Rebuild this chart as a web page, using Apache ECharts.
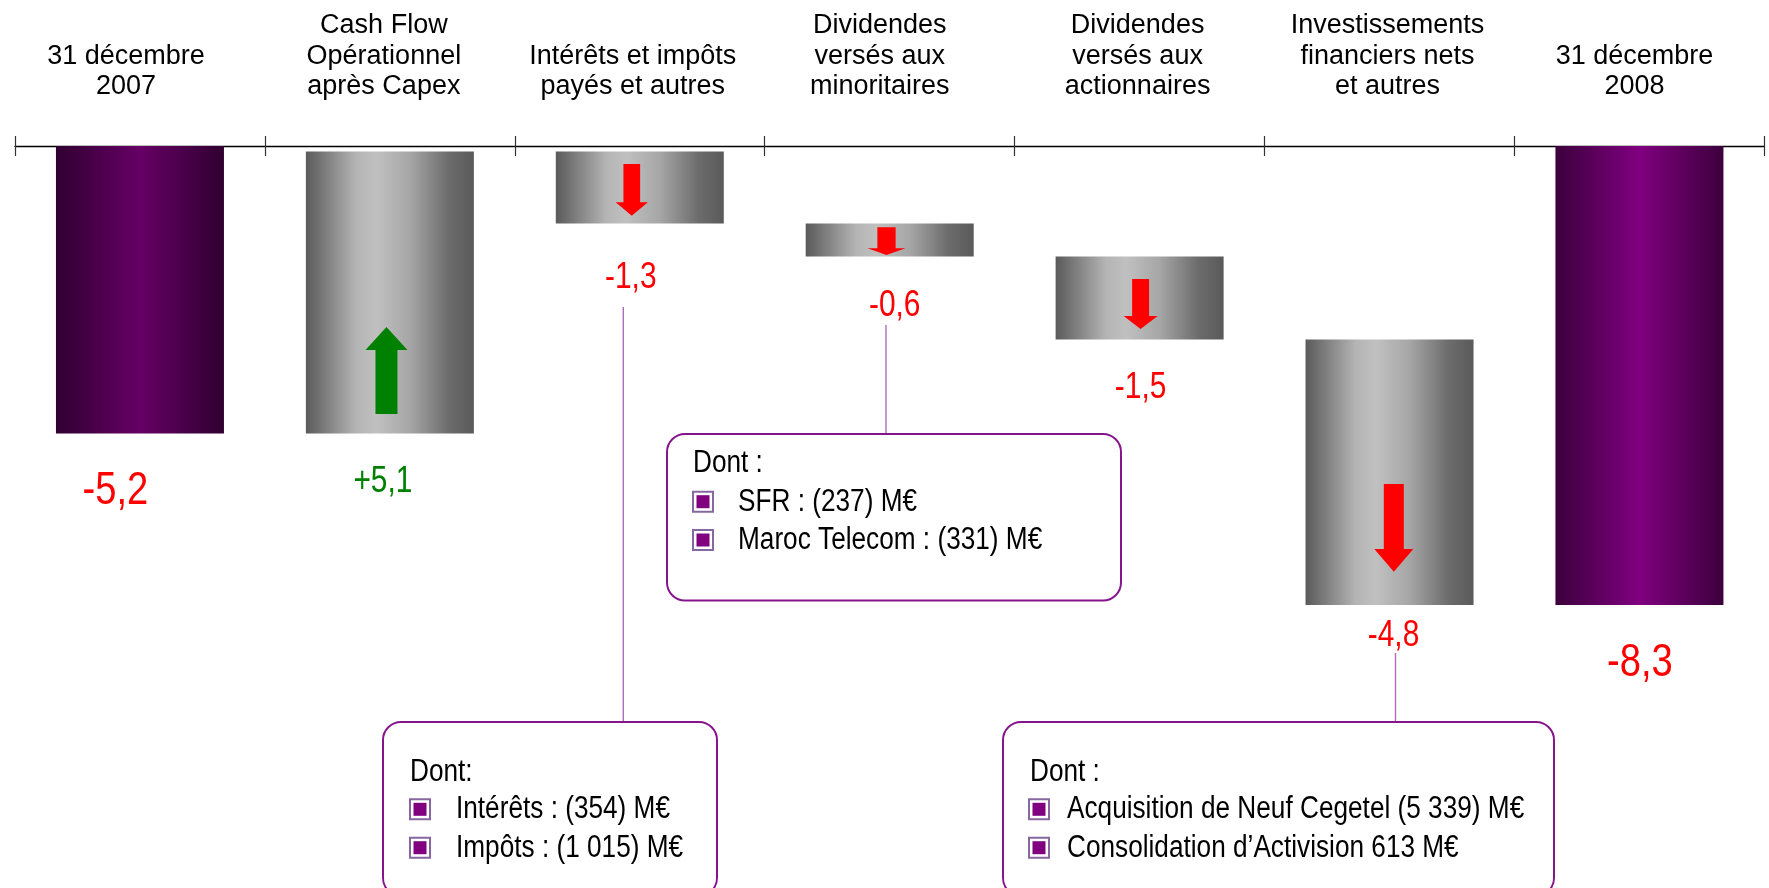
<!DOCTYPE html>
<html><head><meta charset="utf-8">
<script src="https://cdn.jsdelivr.net/npm/echarts@6/dist/echarts.min.js"></script>
<style>html,body{margin:0;padding:0;background:#fff;overflow:hidden}#c{width:1769px;height:888px}</style>
</head><body><div id="c"></div>
<script>
// ---------- data ----------
const categories = [
  '31 décembre\n2007',
  'Cash Flow\nOpérationnel\naprès Capex',
  'Intérêts et impôts\npayés et autres',
  'Dividendes\nversés aux\nminoritaires',
  'Dividendes\nversés aux\nactionnaires',
  'Investissements\nfinanciers nets\net autres',
  '31 décembre\n2008'
];
const openingDebt = -5.2;                       // 31 déc. 2007
const movements = [5.1, -1.3, -0.6, -1.5, -4.8]; // flux de l'année
const closingDebt = -8.3;                       // 31 déc. 2008

const calloutInterets = ['Dont:', 'Intérêts : (354) M€', 'Impôts : (1 015) M€'];
const calloutMinoritaires = ['Dont :', 'SFR : (237) M€', 'Maroc Telecom : (331) M€'];
const calloutInvest = ['Dont :', 'Acquisition de Neuf Cegetel (5 339) M€', 'Consolidation d\u2019Activision 613 M€'];

// ---------- layout / style config ----------
const REG = '"Liberation Sans",Arial,sans-serif';
const NARROW_SCALE = 0.83;
const titleShift = [-14, -6, -7, -10, -2, -2, -5];
const labelLayout = [
  {dx:-24.5, dy:57.4, fs:46, color:'#ff0000'},
  {dx:-7, dy:49, fs:36, color:'#008000'},
  {dx:-9, dy:54.4, fs:36, color:'#ff0000'},
  {dx:5, dy:49.5, fs:36, color:'#ff0000'},
  {dx:1, dy:48.5, fs:36, color:'#ff0000'},
  {dx:4, dy:31.5, fs:36, color:'#ff0000'},
  {dx:0.5, dy:58, fs:46, color:'#ff0000'}
];
const arrowLayout = {
  1:{dir:'up', f0:0.622, f1:0.931, dx:-3.4, shaft:22, head:42, headLen:23, color:'#008000'},
  2:{dir:'down', f0:0.174, f1:0.893, dx:-8, shaft:16.7, head:32.3, headLen:13.4, color:'#ff0000'},
  3:{dir:'down', f0:0.117, f1:0.952, dx:-3.2, shaft:18.3, head:38, headLen:6.7, color:'#ff0000'},
  4:{dir:'down', f0:0.27, f1:0.872, dx:1, shaft:17, head:34, headLen:13, color:'#ff0000'},
  5:{dir:'down', f0:0.544, f1:0.875, dx:4.3, shaft:20, head:39, headLen:22.7, color:'#ff0000'}
};
const grayGrad = {type:'linear',x:0,y:0,x2:1,y2:0,colorStops:[
  {offset:0,color:'#5a5a5a'},{offset:0.3,color:'#b4b4b4'},{offset:0.42,color:'#c0c0c0'},
  {offset:0.62,color:'#a6a6a6'},{offset:0.85,color:'#6c6c6c'},{offset:1,color:'#5a5a5a'}]};
const purpleGrad1 = {type:'linear',x:0,y:0,x2:1,y2:0,colorStops:[
  {offset:0,color:'#300030'},{offset:0.5,color:'#660066'},{offset:1,color:'#300030'}]};
const purpleGrad2 = {type:'linear',x:0,y:0,x2:1,y2:0,colorStops:[
  {offset:0,color:'#3c003c'},{offset:0.5,color:'#800080'},{offset:1,color:'#3c003c'}]};

// ---------- derived waterfall geometry ----------
const baseVals = [], deltaVals = [], bottoms = [], tops = [];
baseVals.push(0); deltaVals.push(openingDebt); tops.push(0); bottoms.push(openingDebt);
let running = openingDebt;
movements.forEach(m => {
  const after = +(running + m).toFixed(4);
  const top = Math.max(running, after), bot = Math.min(running, after);
  baseVals.push(top); deltaVals.push(+(bot - top).toFixed(4));
  tops.push(top); bottoms.push(bot);
  running = after;
});
baseVals.push(0); deltaVals.push(closingDebt); tops.push(0); bottoms.push(closingDebt);
const labelValues = [openingDebt, ...movements, closingDebt];
const fmt = v => (v > 0 ? '+' : '-') + Math.abs(v).toFixed(1).replace('.', ',');

const chart = echarts.init(document.getElementById('c'), null, {renderer:'canvas'});

const deltaData = deltaVals.map((v, i) => ({
  value: v,
  itemStyle: {color: i === 0 ? purpleGrad1 : (i === 6 ? purpleGrad2 : grayGrad)}
}));
const labelData = bottoms.map((b, i) => [i, b]);
const arrowData = Object.keys(arrowLayout).map(k => [+k, tops[+k], bottoms[+k]]);

// ---------- callout graphics ----------
const BOX = '#86158c', LINK = '#b06cbc';
function bullet(x, y) {
  return [
    {type:'rect', shape:{x:x, y:y, width:20, height:20}, style:{fill:'#fff', stroke:'#86679f', lineWidth:2}},
    {type:'rect', shape:{x:x+3.5, y:y+3.5, width:13, height:13}, style:{fill:'#800080'}}
  ];
}
function txt(x, y, s, fs) {
  return {type:'text', x:x, y:y, scaleX:0.845, scaleY:1,
    style:{text:s, font:fs+'px '+REG, fill:'#000', verticalAlign:'middle', align:'left'}};
}
function callout(box, lines, tx, bx, ix, baselines, fs) {
  const els = [{type:'rect', shape:{x:box[0], y:box[1], width:box[2], height:box[3], r:18},
    style:{fill:'#fff', stroke:BOX, lineWidth:2}}];
  els.push(txt(tx, baselines[0] - 0.27*fs, lines[0], fs));
  for (let k = 1; k < lines.length; k++) {
    els.push(...bullet(bx, baselines[k] - 19));
    els.push(txt(ix, baselines[k] - 0.27*fs, lines[k], fs));
  }
  return els;
}
const graphics = [
  {type:'line', shape:{x1:623.3, y1:307, x2:623.3, y2:722}, style:{stroke:LINK, lineWidth:1.4}},
  {type:'line', shape:{x1:886, y1:325, x2:886, y2:434}, style:{stroke:LINK, lineWidth:1.4}},
  {type:'line', shape:{x1:1395.5, y1:653, x2:1395.5, y2:722}, style:{stroke:LINK, lineWidth:1.4}},
  ...callout([667, 434, 454, 166.5], calloutMinoritaires, 693, 693, 738, [471.7, 510.7, 549], 31),
  ...callout([383, 722, 334, 174], calloutInterets, 410, 410, 456, [781, 818.3, 856.7], 31),
  ...callout([1003, 722, 551, 174], calloutInvest, 1030, 1029, 1067, [781, 818.3, 856.7], 31)
];

chart.setOption({
  animation: false,
  backgroundColor: '#fff',
  grid: {left:15, right:4.6, top:146, height:663.6, containLabel:false},
  xAxis: [
    {type:'category', position:'top', data: categories.map((c, i) => ({value:c, textStyle:{padding:[0, Math.max(0,-2*titleShift[i]), 0, Math.max(0, 2*titleShift[i])]}})),
     axisLine:{show:true, onZero:true, lineStyle:{color:'#000', width:1.4}},
     axisTick:{show:true, length:10, lineStyle:{color:'#333', width:1.2}},
     axisLabel:{interval:0, margin:44, fontFamily:REG, fontSize:27, lineHeight:30.5, color:'#000'},
     splitLine:{show:false}},
    {type:'category', position:'top', data: categories,
     axisLine:{show:false}, axisLabel:{show:false}, splitLine:{show:false},
     axisTick:{show:true, inside:true, length:10, lineStyle:{color:'#333', width:1.2}}}
  ],
  yAxis: {type:'value', min:-12, max:0, show:false, splitLine:{show:false}},
  series: [
    {name:'base', type:'bar', stack:'w', barWidth:168, data: baseVals, silent:true,
     itemStyle:{color:'rgba(0,0,0,0)'}},
    {name:'variation', type:'bar', stack:'w', barWidth:168, data: deltaData},
    {name:'fleches', type:'custom', data: arrowData, encode:{x:0, y:[1,2]}, z:5,
     renderItem: function(params, api) {
       const i = api.value(0);
       const L = arrowLayout[i];
       const pT = api.coord([i, api.value(1)]);
       const pB = api.coord([i, api.value(2)]);
       const span = pB[1] - pT[1];
       const y0 = pT[1] + L.f0*span, y1 = pT[1] + L.f1*span;
       const cx = pT[0] + L.dx, sw = L.shaft/2, hw = L.head/2, hl = L.headLen;
       let pts;
       if (L.dir === 'down') pts = [[cx-sw,y0],[cx+sw,y0],[cx+sw,y1-hl],[cx+hw,y1-hl],[cx,y1],[cx-hw,y1-hl],[cx-sw,y1-hl]];
       else pts = [[cx-sw,y1],[cx+sw,y1],[cx+sw,y0+hl],[cx+hw,y0+hl],[cx,y0],[cx-hw,y0+hl],[cx-sw,y0+hl]];
       return {type:'polygon', shape:{points:pts}, style:{fill:L.color}};
     }},
    {name:'valeurs', type:'custom', data: labelData, encode:{x:0, y:1}, z:6,
     renderItem: function(params, api) {
       const i = api.value(0);
       const L = labelLayout[i];
       const p = api.coord([i, api.value(1)]);
       return {type:'text', x:p[0] + L.dx, y:p[1] + L.dy, scaleX:NARROW_SCALE, scaleY:1,
         style:{text: fmt(labelValues[i]), font: L.fs + 'px ' + REG, fill: L.color,
                align:'center', verticalAlign:'middle'}};
     }}
  ],
  graphic: graphics
});
</script></body></html>
